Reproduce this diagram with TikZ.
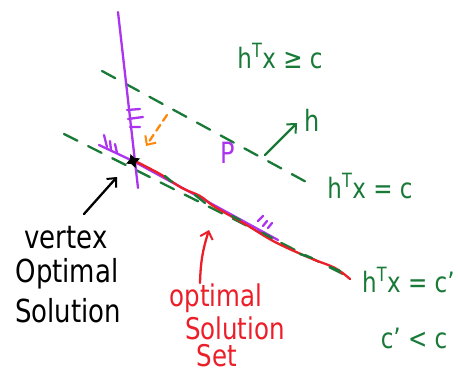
\documentclass[tikz,border=0pt]{standalone}
\usepackage{fontspec}
\setmainfont{DejaVu Sans}
\usetikzlibrary{arrows.meta,shapes.geometric}
\definecolor{grn}{RGB}{25,122,55}
\definecolor{pur}{RGB}{172,52,240}
\definecolor{rd}{RGB}{236,30,40}
\definecolor{org}{RGB}{255,135,10}
\newcommand\tallt[1]{\scalebox{1}[1.22]{#1}}
\begin{document}
\begin{tikzpicture}[x=1pt,y=-1pt,line cap=round,line join=round,
  hand/.style={line width=2.3pt},
  gdash/.style={grn,hand,dash pattern=on 15pt off 12pt},
  tip/.style={-{Straight Barb[length=7pt,width=13pt,line width=2pt]}},
  txt/.style={inner sep=0pt,font=\fontsize{26}{26}\selectfont},
  rtxt/.style={inner sep=0pt,font=\fontsize{24.5}{24.5}\selectfont},
  lbl/.style={inner sep=0pt,font=\fontsize{23}{23}\selectfont},
  plbl/.style={inner sep=0pt,font=\fontsize{24}{24}\selectfont}]
\useasboundingbox[fill=white] (0,0) rectangle (458,376);
% geometry points
\coordinate (va) at (118,12);
\coordinate (vb) at (138,188);
\coordinate (u1) at (102,71);
\coordinate (u2) at (310,184);
\coordinate (l1) at (64,134);
\coordinate (l2) at (345,275);
\coordinate (x) at (133,161);
\coordinate (e1) at (99,145);
\coordinate (e2) at (278,240);
% green hyperplanes
\draw[gdash] (u1) -- (u2);
\draw[gdash] (l1) -- (l2);
% polyhedron P faces (purple)
\draw[pur,hand] (va) -- (vb);
\draw[pur,hand] (e1) -- (x) -- (e2);
\draw[pur,hand] (127,110) -- (140,109) (128,119) -- (143,117) (130,127) -- (140,127);
\draw[pur,hand] (104,135) -- (107,147) (110,141) -- (111,150) (115,144) -- (117,153);
\draw[pur,hand] (258,221) -- (263,216) (263,226) -- (267,221) (268,228) -- (272,223);
% red optimal solution set
\draw[rd,hand] plot[smooth,tension=0.6] coordinates {(133,160) (160,174) (182,188) (200,196) (215,207) (245,224) (275,242) (310,258) (335,268) (350,279)};
% dashes over red
\draw[grn,hand] (165,176) -- (172,182) (195,195) -- (205,203) (232,216) -- (240,220) (263,233) -- (272,238) (300,254) -- (312,258) (330,267) -- (340,271);
% vertex star
\node[star,star points=4,star point ratio=2.2,fill=black,minimum size=15pt,inner sep=0pt,rotate=20] (vtx) at (x) {};
% orange dashed arrow
\coordinate (o1) at (167,115);
\coordinate (o2) at (146,146);
\draw[org,hand,dash pattern=on 7pt off 5pt,tip] (o1) -- (o2);
% P label
\node[plbl,pur] (P) at (228,153) {\tallt{P}};
% normal vector h
\coordinate (n1) at (265,155);
\coordinate (n2) at (297,123);
\draw[grn,hand,tip] (n1) -- (n2);
\node[plbl,grn] (hlab) at (312,120) {\tallt{h}};
% green labels
\node[lbl,grn] (geq) at (280,56) {\tallt{h\textsuperscript{T}x ≥ c}};
\node[lbl,grn] (eqc) at (370,186) {\tallt{h\textsuperscript{T}x = c}};
\node[lbl,grn,anchor=west] (eqcp) at (362,280) {\tallt{h\textsuperscript{T}x = c’}};
\node[lbl,grn] (cc) at (414,338) {\tallt{c’ < c}};
% black labels
\node[txt] (t1) at (66,238) {\tallt{vertex}};
\node[txt] (t2) at (67,274) {\tallt{Optimal}};
\node[txt] (t3) at (68,311) {\tallt{Solution}};
\coordinate (b1) at (84,214);
\coordinate (b2) at (117,177);
\draw[black,hand,tip] (b1) -- (b2);
% red labels
\node[rtxt,rd] (r1) at (216,298) {\tallt{optimal}};
\node[rtxt,rd] (r2) at (235,328) {\tallt{Solution}};
\node[rtxt,rd] (r3) at (217,356) {\tallt{Set}};
\coordinate (c1) at (200,283);
\coordinate (c2) at (209,230);
\draw[rd,hand,tip] (c1) to[bend left=8] (c2);
\end{tikzpicture}
\end{document}
